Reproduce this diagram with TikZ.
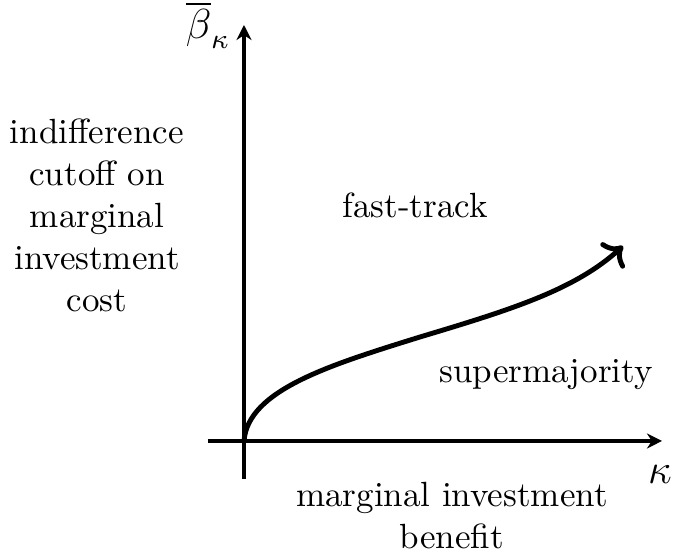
\documentclass[tikz,border=0pt]{standalone}
\usepackage{amsmath}
\usepackage{xcolor}
\usetikzlibrary{arrows.meta}
\begin{document}
\begin{tikzpicture}[x=0.2857pt,y=-0.2857pt]
    \useasboundingbox (0,0) rectangle (674,557);
    \coordinate (O) at (244,441);
    \coordinate (xstart) at (208,441);
    \coordinate (xend) at (662,441);
    \coordinate (ystart) at (244,479);
    \coordinate (yend) at (244,25);
    \coordinate (curveend) at (623,246);
    \draw[very thick,-{Stealth[length=4.3pt,width=4.3pt]}] (xstart) -- (xend);
    \draw[very thick,-{Stealth[length=4.3pt,width=4.3pt]}] (ystart) -- (yend) node[left]{\large $\overline{\beta}_\kappa$};
    \draw[line width=1.4pt,->] (O) .. controls (248,390) and (330,365) .. (420,337) .. controls (510,310) and (575,290) .. (curveend);
    \node (kappa) at (660,474) {\large $\kappa$};
    \node[align=center] (ylabel) at (97,215) {indifference\\cutoff on\\marginal\\investment\\cost};
    \node[align=center] (xlabel) at (452,516) {marginal investment\\benefit};
    \node[anchor=base] (fast) at (415,218) {fast-track};
    \node[anchor=base] (super) at (546,383) {supermajority};
\end{tikzpicture}
\end{document}
